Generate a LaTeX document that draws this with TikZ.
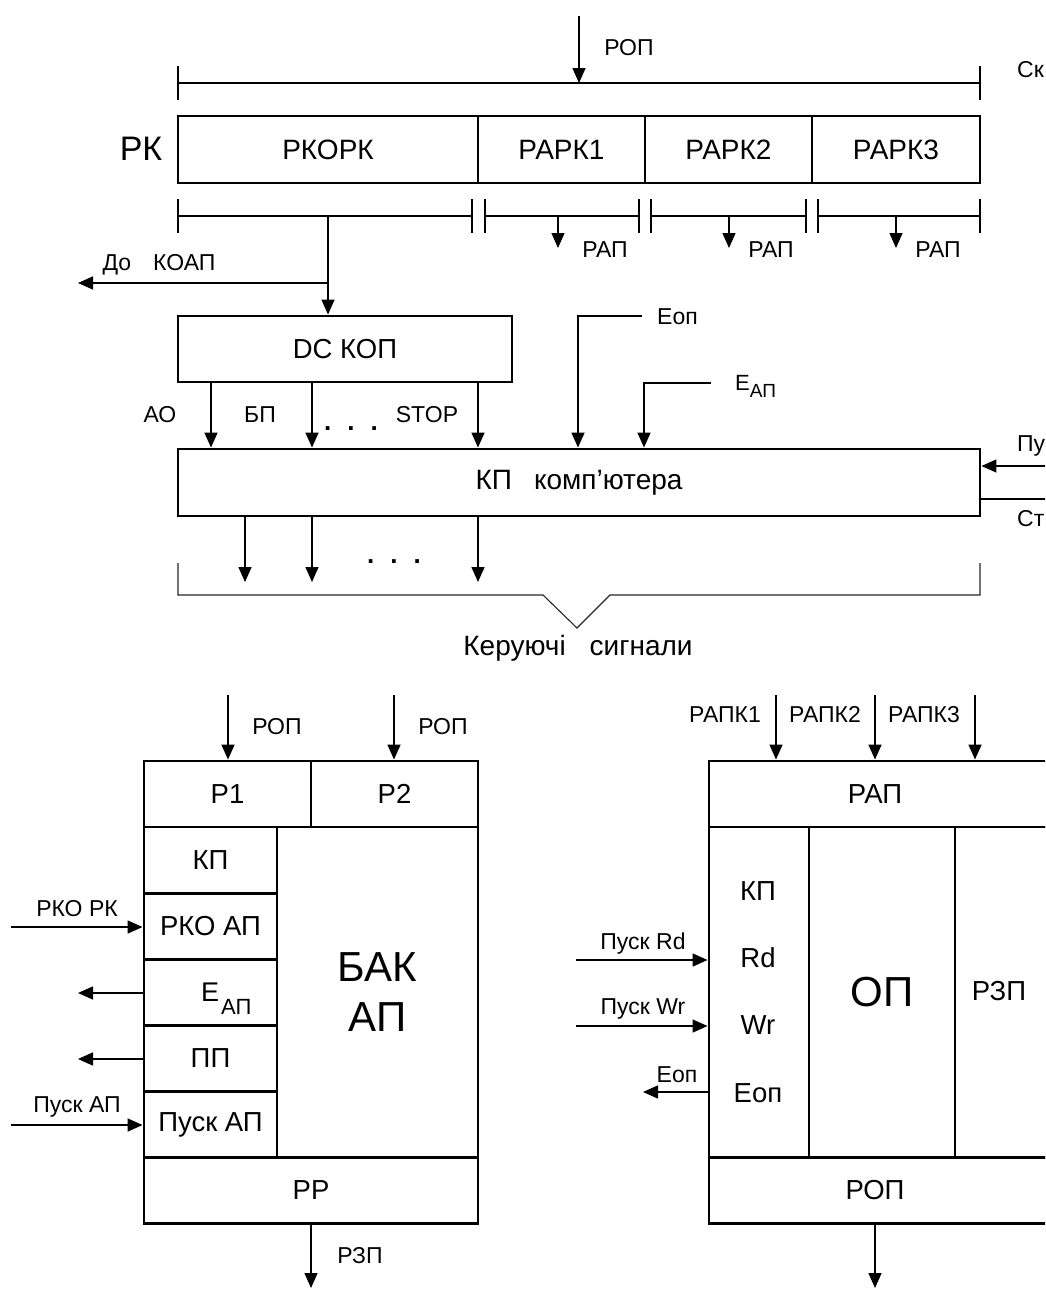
\documentclass[tikz,border=0pt]{standalone}
\usepackage{fontspec}
\setmainfont{Liberation Sans}
\usetikzlibrary{arrows.meta}
\newcommand\fsz[1]{\fontsize{#1pt}{#1pt}\selectfont}
\begin{document}
\begin{tikzpicture}[x=1pt,y=-1pt,
  box/.style={draw, line width=2.9pt, inner sep=0pt, rectangle, font=\fsz{27.5}},
  wire/.style={line width=1.5pt},
  arr/.style={wire, -{Triangle[length=15pt,width=13pt]}},
  lbl/.style={inner sep=0pt, font=\fsz{23}},
  slbl/.style={inner sep=0pt, font=\fsz{23}},
  txt/.style={inner sep=0pt, font=\fsz{27.5}},
  dots/.style={inner sep=0pt, font=\fsz{26}\bfseries, anchor=base}]
\useasboundingbox (0,0) rectangle (1045,1293);
\clip (0,0) rectangle (1045,1293);

% ---------------- top: command register ----------------
\node[lbl] (rop0) at (629,48) {РОП};
\node[lbl, anchor=west] (sk) at (1017,70) {Ск};
\coordinate (ropsrc) at (579,16);
\draw[wire] (178,66) -- (178,100) (980,66) -- (980,100) (178,83) -- (980,83);
\coordinate (ropdst) at (579,83);
\draw[arr] (ropsrc) -- (ropdst);

\node[inner sep=0pt, font=\fsz{34}] (rk) at (141,149) {РК};
\node[box, font=\fsz{28}, minimum width=300pt, minimum height=67pt] (rkopk) at (328,149.5) {РКОРК};
\node[box, font=\fsz{28}, minimum width=167pt, minimum height=67pt] (rapk1) at (561.5,149.5) {РАРК1};
\node[box, font=\fsz{28}, minimum width=167pt, minimum height=67pt] (rapk2) at (728.5,149.5) {РАРК2};
\node[box, font=\fsz{28}, minimum width=168pt, minimum height=67pt] (rapk3) at (896,149.5) {РАРК3};

% lower brackets
\draw[wire] (178,199) -- (178,233) (472,199) -- (472,233) (485,199) -- (485,233)
  (639,199) -- (639,233) (651,199) -- (651,233) (806,199) -- (806,233)
  (818,199) -- (818,233) (980,199) -- (980,233);
\draw[wire] (178,216) -- (472,216) (485,216) -- (639,216) (651,216) -- (806,216) (818,216) -- (980,216);
\coordinate (b1) at (558,216);
\coordinate (b2) at (729,216);
\coordinate (b3) at (896,216);
\draw[arr] (b1) -- ++(0,32);
\draw[arr] (b2) -- ++(0,32);
\draw[arr] (b3) -- ++(0,32);
\node[lbl] (rap1) at (605,250) {РАП};
\node[lbl] (rap2) at (771,250) {РАП};
\node[lbl] (rap3) at (938,250) {РАП};

% DC KOP
\node[box, font=\fsz{27.5}, minimum width=334pt, minimum height=66pt] (dc) at (345,349) {DC КОП};
\coordinate (b0) at (328,216);
\coordinate (koap) at (78,283);
\draw[arr] (b0) -- (b0 |- dc.north);
\draw[arr] (328,283) -- (koap);
\node[lbl] (dokoap) at (159,265) {До\hspace{22pt}КОАП};

% KP computer
\node[box, font=\fsz{28}, minimum width=802pt, minimum height=67pt] (kp) at (579,482.5) {КП\hspace{22pt}комп’ютера};
\draw[arr] (211,0 |- dc.south) -- (211,0 |- kp.north);
\draw[arr] (312,0 |- dc.south) -- (312,0 |- kp.north);
\draw[arr] (478,0 |- dc.south) -- (478,0 |- kp.north);
\node[lbl] (ao) at (160,415) {АО};
\node[lbl] (bp) at (260,415) {БП};
\node[lbl] (stop) at (427,415) {STOP};
\node[dots] (dots1) at (351,430) {.\hspace{16pt}.\hspace{16pt}.};

\coordinate (eopsrc) at (642,316);
\coordinate (eapsrc) at (711,383);
\draw[arr] (eopsrc) -- (578,316) -- (578,0 |- kp.north);
\draw[arr] (eapsrc) -- (644,383) -- (644,0 |- kp.north);
\node[inner sep=0pt, font=\fsz{23}, anchor=base west] (eop) at (657,324) {Еоп};
\node[inner sep=0pt, font=\fsz{22}, anchor=base west] (eap) at (735,390) {E\raisebox{-7pt}{\fsz{19}АП}};

\coordinate (pusrc) at (1050,466);
\coordinate (stdst) at (1050,499);
\draw[arr] (pusrc) -- (kp.east |- pusrc);
\draw[wire] (kp.east |- stdst) -- (stdst);
\node[lbl, anchor=west] (pu) at (1017,446) {Пу};
\node[lbl, anchor=west] (st) at (1017,519) {Ст};

\draw[arr] (245,0 |- kp.south) -- (245,582);
\draw[arr] (312,0 |- kp.south) -- (312,582);
\draw[arr] (478,0 |- kp.south) -- (478,582);
\node[dots] (dots2) at (394,563) {.\hspace{16pt}.\hspace{16pt}.};

\draw[line width=1.1pt, black!85] (178,563) -- (178,595) -- (543,595) -- (577,628) -- (610,595) -- (980,595) -- (980,563);
\node[inner sep=0pt, font=\fsz{28}] (ks) at (578,648) {Керуючі\hspace{24pt}сигнали};

% ---------------- bottom left: arithmetic unit ----------------
\node[box, minimum width=167pt, minimum height=66pt] (p1) at (227.5,794) {Р1};
\node[box, minimum width=167pt, minimum height=66pt] (p2) at (394.5,794) {Р2};
\node[box, minimum width=133pt, minimum height=66.1pt] (c1) at (210.5,860) {КП};
\node[box, minimum width=133pt, minimum height=66.1pt] (c2) at (210.5,926.1) {РКО АП};
\node[box, minimum width=133pt, minimum height=66.1pt] (c3) at (210.5,992.2) {};
\node[box, minimum width=133pt, minimum height=66.1pt] (c4) at (210.5,1058.3) {ПП};
\node[box, minimum width=133pt, minimum height=66.1pt] (c5) at (210.5,1124.4) {Пуск АП};
\node[box, align=center, font=\fontsize{42pt}{50pt}\selectfont, minimum width=201pt, minimum height=330.5pt] (bak) at (377.5,992.2) {БАК\\АП};
\node[box, minimum width=334pt, minimum height=66pt] (pp) at (311,1190.5) {РР};
\node[inner sep=0pt, font=\fsz{27}, anchor=base west] (c3t) at (201,1001) {E\hspace{2pt}\raisebox{-13pt}{\fsz{22}АП}};

\coordinate (r1) at (228,695);
\coordinate (r2) at (394,695);
\draw[arr] (r1) -- (r1 |- p1.north);
\draw[arr] (r2) -- (r2 |- p2.north);
\node[slbl] (rl1) at (277,727) {РОП};
\node[slbl] (rl2) at (443,727) {РОП};

\coordinate (rkork) at (11,927);
\coordinate (eapout) at (78,993);
\coordinate (ppout) at (78,1059);
\coordinate (puskap) at (11,1125);
\draw[arr] (rkork) -- (c2.west |- rkork);
\draw[arr] (c3.west |- eapout) -- (eapout);
\draw[arr] (c4.west |- ppout) -- (ppout);
\draw[arr] (puskap) -- (c5.west |- puskap);
\node[slbl] (lrk) at (77,909) {РКО РК};
\node[slbl] (lpa) at (77,1107) {Пуск АП};

\coordinate (rzpo) at (311,1288);
\draw[arr] (pp.south) -- (rzpo);
\node[slbl] (rzpl) at (360,1256) {РЗП};

% ---------------- bottom right: memory ----------------
\node[box, minimum width=351pt, minimum height=66pt] (rap) at (884.5,794) {};
\node[box, minimum width=100pt, minimum height=330.5pt] (ctl) at (759,992.2) {};
\node[box, font=\fsz{42}, minimum width=146pt, minimum height=330.5pt] (op) at (882,992.2) {ОП};
\node[box, minimum width=105pt, minimum height=330.5pt] (rzpc) at (1007.5,992.2) {};
\node[box, minimum width=351pt, minimum height=66pt] (ropb) at (884.5,1190.5) {};
\node[txt] (rapt) at (875,794) {РАП};
\node[txt] (ropt) at (875,1190.5) {РОП};
\node[txt] (rzpt) at (999,991) {РЗП};
\node[txt] (kp2) at (758,891) {КП};
\node[txt] (rd) at (758,958) {Rd};
\node[txt] (wr) at (758,1025) {Wr};
\node[txt] (eop2) at (758,1093) {Еоп};

\coordinate (k1) at (776,695);
\coordinate (k2) at (875,695);
\coordinate (k3) at (975,695);
\draw[arr] (k1) -- (k1 |- rap.north);
\draw[arr] (k2) -- (k2 |- rap.north);
\draw[arr] (k3) -- (k3 |- rap.north);
\node[lbl, anchor=base] (lk1) at (725,722) {РАПК1};
\node[lbl, anchor=base] (lk2) at (825,722) {РАПК2};
\node[lbl, anchor=base] (lk3) at (924,722) {РАПК3};

\coordinate (prd) at (576,960);
\coordinate (pwr) at (576,1026);
\coordinate (eopout) at (643,1092);
\draw[arr] (prd) -- (ctl.west |- prd);
\draw[arr] (pwr) -- (ctl.west |- pwr);
\draw[arr] (ctl.west |- eopout) -- (eopout);
\node[slbl] (lprd) at (643,944) {Пуск Rd};
\node[slbl] (lpwr) at (643,1009) {Пуск Wr};
\node[slbl] (leop) at (677,1075) {Еоп};

\coordinate (ropo) at (875,1288);
\draw[arr] (ropt |- ropb.south) -- (ropo);
\end{tikzpicture}
\end{document}
